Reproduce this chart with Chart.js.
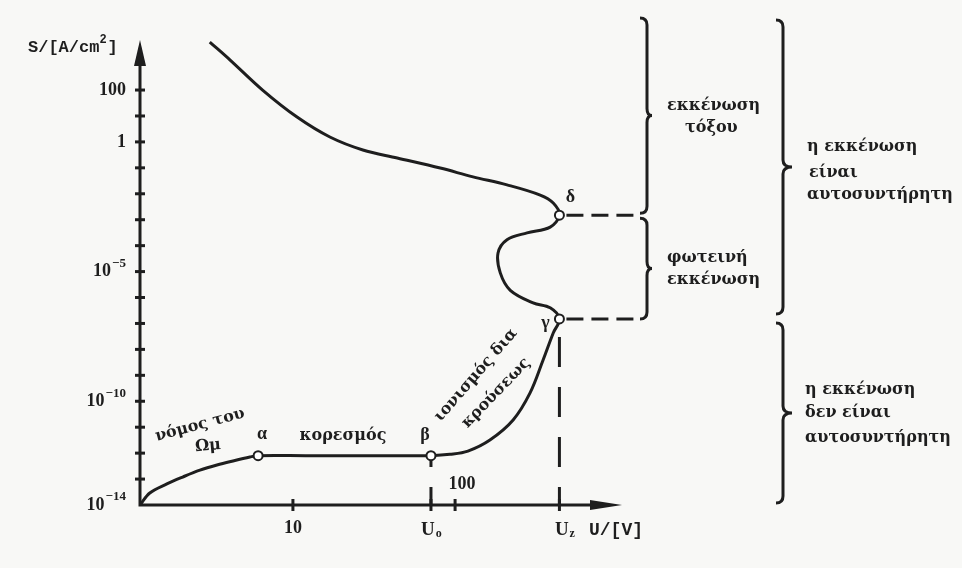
<!DOCTYPE html>
<html>
<head>
<meta charset="utf-8">
<script src="https://cdn.jsdelivr.net/npm/chart.js@4.4.1/dist/chart.umd.min.js"></script>
<style>
  html, body { margin: 0; padding: 0; background: #f8f8f6; }
  #wrap { width: 962px; height: 568px; }
</style>
</head>
<body>
<div id="wrap"><canvas id="plot" width="962" height="568"></canvas></div>
<script>
// voltage U [V] and current density S [A/cm2] along the characteristic, origin -> α -> β -> γ -> δ -> arc
const curveU = [1.14, 1.31, 1.67, 2.09, 2.67, 3.4, 4.26, 5.43, 6.1, 12, 25, 45, 71, 93, 120, 164, 228, 290, 349, 403, 440,
  386, 303, 219, 190, 184, 209, 278, 386, 440, 403, 335, 209, 129, 81, 44, 27, 16.9, 10.6, 6.5, 4.1, 3.07];
const curveS = [1e-14, 2.9e-14, 6.5e-14, 1.2e-13, 2.2e-13, 3.5e-13, 5e-13, 7.1e-13, 8e-13, 8e-13, 8e-13, 8e-13, 8e-13, 9e-13,
  1.2e-12, 3.2e-12, 1.9e-11, 2.1e-10, 3.9e-9, 4.3e-8, 1.5e-7, 4e-7, 6.2e-7, 1.9e-6, 8.9e-6, 5.2e-5, 1.7e-4, 3.1e-4, 5.2e-4,
  1.5e-3, 4.4e-3, 8.9e-3, 0.022, 0.045, 0.098, 0.24, 0.49, 1.55, 9.1, 100, 1435, 7080];

const pointNames = ['α', 'β', 'γ', 'δ'];
const pointU = [6.1, 71, 440, 440];
const pointS = [8e-13, 8e-13, 1.5e-7, 1.5e-3];

const yTickValues = [1e2, 1e1, 1, 1e-1, 1e-2, 1e-3, 1e-4, 1e-5, 1e-6, 1e-7, 1e-8, 1e-9, 1e-10, 1e-11, 1e-12, 1e-13];
const yLabelValues = [1e2, 1, 1e-5, 1e-10, 1e-14];
const yLabelTexts = ['100', '1', '10^−5', '10^−10', '10^−14'];
const xTickValues = [10, 100];
const xTickLabels = ['10', '100'];
const yTitle = 'S/[A/cm^2]';
const xTitle = 'U/[V]';

const curveLabels = ['νόμος του', 'Ωμ', 'κορεσμός', 'ιονισμός δια', 'κρούσεως'];
const regionText = [
  ['εκκένωση', 'τόξου'],
  ['φωτεινή', 'εκκένωση'],
  ['η εκκένωση', 'είναι', 'αυτοσυντήρητη'],
  ['η εκκένωση', 'δεν είναι', 'αυτοσυντήρητη'],
];

const ink = '#1e1e1e';
const serif = '"Liberation Serif", "DejaVu Serif", serif';
const greek = '"DejaVu Serif", serif';
const mono = '"Liberation Mono", "DejaVu Sans Mono", monospace';

function write(ctx, s, x, y, font, align, angle) {
  ctx.save();
  ctx.translate(x, y);
  if (angle) ctx.rotate(angle * Math.PI / 180);
  ctx.font = font;
  ctx.textAlign = align || 'left';
  ctx.textBaseline = 'middle';
  ctx.fillText(s, 0, 0);
  ctx.restore();
}

// "10^−5" -> base plus raised exponent, right aligned at x
function writePower(ctx, s, right, y) {
  const [base, exp] = s.split('^');
  ctx.save();
  ctx.textBaseline = 'middle';
  ctx.textAlign = 'left';
  const bf = `bold 18px ${serif}`, ef = `bold 13px ${serif}`;
  ctx.font = ef;
  const ew = exp ? ctx.measureText(exp).width + 1 : 0;
  ctx.font = bf;
  const bw = ctx.measureText(base).width;
  ctx.fillText(base, right - ew - bw, y);
  if (exp) {
    ctx.font = ef;
    ctx.fillText(exp, right - ew + 1, y - 8);
  }
  ctx.restore();
}

function writeSub(ctx, main, sub, cx, y) {
  ctx.save();
  ctx.textBaseline = 'alphabetic';
  ctx.textAlign = 'left';
  const mf = `bold 19px ${serif}`, sf = `bold 12px ${serif}`;
  ctx.font = mf;
  const mw = ctx.measureText(main).width;
  ctx.font = sf;
  const sw = ctx.measureText(sub).width;
  const x0 = cx - (mw + sw) / 2 + 2;
  ctx.font = mf;
  ctx.fillText(main, x0, y);
  ctx.font = sf;
  ctx.fillText(sub, x0 + mw + 1, y + 2);
  ctx.restore();
}

function brace(ctx, x, top, bottom, tip) {
  const r = 7, mid = (top + bottom) / 2;
  ctx.beginPath();
  ctx.moveTo(x - r, top);
  ctx.quadraticCurveTo(x, top, x, top + r);
  ctx.lineTo(x, mid - r);
  ctx.quadraticCurveTo(x, mid, x + tip, mid);
  ctx.quadraticCurveTo(x, mid, x, mid + r);
  ctx.lineTo(x, bottom - r);
  ctx.quadraticCurveTo(x, bottom, x - r, bottom);
  ctx.stroke();
}

const decor = {
  id: 'decor',
  beforeDatasetsDraw(chart) {
    const { ctx, chartArea: a, scales: { x, y } } = chart;
    ctx.save();
    ctx.strokeStyle = ink;
    ctx.fillStyle = ink;
    ctx.lineWidth = 3;
    ctx.beginPath();
    ctx.moveTo(a.left, a.top + 20);
    ctx.lineTo(a.left, a.bottom);
    ctx.lineTo(a.right - 20, a.bottom);
    ctx.stroke();
    // arrow heads
    ctx.beginPath();
    ctx.moveTo(a.left, a.top);
    ctx.lineTo(a.left - 6, a.top + 26);
    ctx.lineTo(a.left + 6, a.top + 26);
    ctx.closePath();
    ctx.fill();
    ctx.beginPath();
    ctx.moveTo(a.right, a.bottom);
    ctx.lineTo(a.right - 32, a.bottom - 5);
    ctx.lineTo(a.right - 32, a.bottom + 5);
    ctx.closePath();
    ctx.fill();
    // ticks
    yTickValues.forEach((v) => {
      const py = y.getPixelForValue(v);
      ctx.beginPath();
      ctx.moveTo(a.left - 5, py);
      ctx.lineTo(a.left + 5, py);
      ctx.stroke();
    });
    [...xTickValues, pointU[1], pointU[2]].forEach((v) => {
      const px = x.getPixelForValue(v);
      ctx.beginPath();
      ctx.moveTo(px, a.bottom - 6);
      ctx.lineTo(px, a.bottom + 6);
      ctx.stroke();
    });
    ctx.restore();
  },
  afterDatasetsDraw(chart) {
    const { ctx, scales: { x, y } } = chart;
    ctx.save();
    ctx.fillStyle = ink;
    ctx.strokeStyle = ink;

    // axis labels
    yLabelValues.forEach((v, i) => writePower(ctx, yLabelTexts[i], 126, y.getPixelForValue(v)));
    const xb = y.getPixelForValue(1e-14);
    write(ctx, xTickLabels[0], x.getPixelForValue(xTickValues[0]), xb + 23, `bold 18px ${serif}`, 'center');
    write(ctx, xTickLabels[1], x.getPixelForValue(xTickValues[1]) + 7, xb - 21, `bold 18px ${serif}`, 'center');
    writeSub(ctx, 'U', 'o', x.getPixelForValue(pointU[1]) - 2, xb + 30);
    writeSub(ctx, 'U', 'z', x.getPixelForValue(pointU[2]) + 3, xb + 30);
    write(ctx, xTitle, 589, xb + 25, `bold 18px ${mono}`, 'left');
    const [t1, t2] = yTitle.split('^');
    ctx.font = `bold 17px ${mono}`;
    ctx.textBaseline = 'alphabetic';
    ctx.fillText(t1, 28, 52);
    const w1 = ctx.measureText(t1).width;
    ctx.font = `bold 12px ${mono}`;
    ctx.fillText(t2[0], 28 + w1, 43);
    ctx.font = `bold 17px ${mono}`;
    ctx.fillText(t2.slice(1), 28 + w1 + 8, 52);

    // point names
    const nameOffset = [[4, -21], [-6, -20], [-14, 4], [11, -18]];
    pointNames.forEach((n, i) => {
      write(ctx, n, x.getPixelForValue(pointU[i]) + nameOffset[i][0], y.getPixelForValue(pointS[i]) + nameOffset[i][1],
        `bold 18px ${serif}`, 'center');
    });

    // labels along the curve
    const lf = `bold 16px ${greek}`;
    write(ctx, curveLabels[0], 200, 425, lf, 'center', -15);
    write(ctx, curveLabels[1], 208, 446, lf, 'center', -5);
    write(ctx, curveLabels[2], 343, 436, lf, 'center');
    write(ctx, curveLabels[3], 476, 375, lf, 'center', -49);
    write(ctx, curveLabels[4], 496, 393, lf, 'center', -46);

    // dashed leaders from δ and γ to the braces
    const px = x.getPixelForValue(pointU[2]);
    const yG = y.getPixelForValue(pointS[2]);
    const yD = y.getPixelForValue(pointS[3]);
    ctx.lineWidth = 3;
    ctx.setLineDash([17, 8]);
    [yD, yG].forEach((py) => {
      ctx.beginPath();
      ctx.moveTo(px + 7, py);
      ctx.lineTo(641, py);
      ctx.stroke();
    });
    ctx.setLineDash([]);

    // braces
    brace(ctx, 647, 18, yD - 2, 5);
    brace(ctx, 647, yD + 3, yG, 5);
    brace(ctx, 783, 20, yG - 5, 9);
    brace(ctx, 783, yG + 4, 503, 9);

    const rf = `bold 16px ${greek}`;
    const regionPos = [
      [[667, 106], [685, 128]],
      [[667, 258], [667, 280]],
      [[807, 147], [809, 173], [807, 195]],
      [[805, 390], [805, 413], [805, 438]],
    ];
    regionText.forEach((lines, i) => {
      lines.forEach((s, j) => write(ctx, s, regionPos[i][j][0], regionPos[i][j][1], rf, 'left'));
    });
    ctx.restore();
  },
};

const curve = curveU.map((u, i) => ({ x: u, y: curveS[i] }));
const points = pointU.map((u, i) => ({ x: u, y: pointS[i] }));

new Chart(document.getElementById('plot'), {
  type: 'line',
  data: {
    datasets: [
      {
        type: 'scatter',
        data: points,
        pointRadius: 4.5,
        pointBackgroundColor: '#ffffff',
        pointBorderColor: ink,
        pointBorderWidth: 2,
        showLine: false,
        order: 0,
      },
      {
        data: curve,
        borderColor: ink,
        borderWidth: 3,
        pointRadius: 0,
        tension: 0.35,
        fill: false,
        order: 1,
      },
      {
        data: [{ x: pointU[1], y: 1e-14 }, { x: pointU[1], y: pointS[1] }],
        borderColor: ink,
        borderWidth: 3,
        borderDash: [30, 20],
        borderDashOffset: 12,
        pointRadius: 0,
        order: 2,
      },
      {
        data: [{ x: pointU[2], y: 1e-14 }, { x: pointU[2], y: pointS[2] }],
        borderColor: ink,
        borderWidth: 3,
        borderDash: [30, 20],
        borderDashOffset: 12,
        pointRadius: 0,
        order: 2,
      },
    ],
  },
  options: {
    responsive: false,
    animation: false,
    devicePixelRatio: 1,
    layout: { padding: { left: 140, top: 40, right: 340, bottom: 63 } },
    scales: {
      x: { type: 'logarithmic', min: 1.14, max: 1070, bounds: 'data', display: false },
      y: { type: 'logarithmic', min: 1e-14, max: 8500, bounds: 'data', display: false },
    },
    plugins: {
      legend: { display: false },
      tooltip: { enabled: false },
    },
  },
  plugins: [decor],
});
</script>
</body>
</html>
